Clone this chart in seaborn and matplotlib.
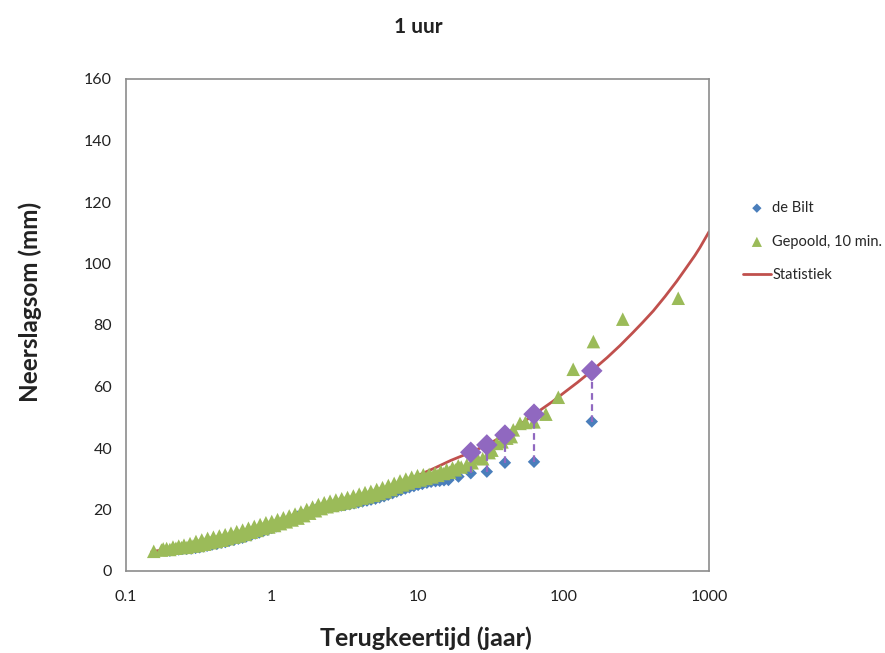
import matplotlib
matplotlib.use("Agg")
import matplotlib.pyplot as plt
import seaborn as sns

# ---------------- data ----------------
green_T = [0.155, 0.175, 0.18,
           0.190, 0.200, 0.210, 0.220, 0.230, 0.240, 0.250, 0.262, 0.275, 0.288,
           0.302, 0.316, 0.331, 0.347, 0.363, 0.380, 0.398, 0.417, 0.437, 0.457,
           0.479, 0.501, 0.525, 0.550, 0.575, 0.603, 0.631, 0.661, 0.692, 0.724,
           0.759, 0.794, 0.832, 0.871, 0.912, 0.955, 1.000, 1.047, 1.096, 1.148,
           1.202, 1.259, 1.318, 1.380, 1.445, 1.514, 1.585, 1.660, 1.738, 1.820,
           1.905, 1.995, 2.089, 2.188, 2.291, 2.399, 2.512, 2.630, 2.754, 2.884,
           3.020, 3.162, 3.311, 3.467, 3.631, 3.802, 3.981, 4.169, 4.365, 4.571,
           4.786, 5.012, 5.248, 5.495, 5.754, 6.026, 6.310, 6.607, 6.918, 7.244,
           7.586, 7.943, 8.318, 8.710, 9.120, 9.550, 10.00, 10.47, 10.96, 11.48,
           12.02, 12.59, 13.18, 13.80, 14.45, 15.14, 15.85, 16.60, 17.38, 18.20,
           19.05, 19.95,
           21.8, 23.7, 25.6, 28.0, 31.0, 32.4, 35.0, 38.0, 41.0, 44.0, 45.4, 50.5,
           55.0, 63.0, 76.0, 92.5, 117.0, 161.0, 256.0, 615.0]
green_v = [6.4, 6.8, 7.2,
           7.3, 7.0, 7.8, 7.4, 8.1, 7.6, 8.4, 7.7, 8.9, 8.1,
           9.6, 8.3, 10.1, 8.7, 10.6, 9.2, 11.0, 9.6, 11.4, 10.0,
           11.8, 10.5, 12.3, 11.0, 12.8, 11.4, 13.3, 11.9, 13.9, 12.6,
           14.5, 13.2, 15.1, 13.8, 15.7, 14.3, 16.1, 14.8, 16.7, 15.4,
           17.3, 16.0, 17.9, 16.6, 18.5, 17.2, 19.2, 18.0, 20.0, 18.8,
           20.8, 19.6, 21.6, 20.3, 22.2, 20.9, 22.7, 21.3, 23.1, 21.7,
           23.5, 22.1, 23.9, 22.5, 24.4, 23.1, 25.0, 23.7, 25.5, 24.1,
           25.9, 24.6, 26.5, 25.2, 27.1, 25.8, 27.8, 26.5, 28.5, 27.3,
           29.3, 28.0, 29.9, 28.6, 30.5, 29.2, 31.0, 29.6, 31.3, 30.1,
           31.4, 30.6, 31.8, 31.1, 32.4, 31.7, 32.9, 32.1, 33.5, 32.9,
           34.2, 33.8,
           34.5, 35.2, 36.8, 36.5, 38.5, 39.3, 41.5, 42.0, 43.2, 43.7, 45.9, 48.0,
           48.3, 48.5, 51.0, 56.5, 65.6, 74.6, 81.9, 88.7]

bilt_T = [0.20, 0.215, 0.23, 0.245, 0.26, 0.28, 0.30, 0.32, 0.34, 0.36, 0.39,
          0.42, 0.45, 0.48, 0.51, 0.55, 0.59, 0.63, 0.67, 0.72, 0.77, 0.82, 0.88,
          0.94, 1.0, 1.07, 1.15, 1.23, 1.32, 1.41, 1.51, 1.62, 1.74, 1.86, 1.99,
          2.13, 2.28, 2.44, 2.61, 2.8, 3.0, 3.2, 3.43, 3.67, 3.93, 4.2, 4.5, 4.8,
          5.15, 5.5, 5.9, 6.3, 6.75, 7.2, 7.7, 8.25, 8.8, 9.45, 10.1, 10.8, 11.6,
          12.4, 13.3, 14.2, 15.2, 16.3, 19.1, 23.2, 29.9, 39.8, 63.0, 157.0]
bilt_v = [6.6, 6.9, 7.0, 7.2, 7.2, 7.3, 7.5, 7.7, 8.0, 8.2, 8.6,
          8.8, 9.2, 9.4, 9.8, 10.1, 10.5, 10.8, 11.3, 11.6, 12.2, 12.5, 13.1,
          13.4, 14.0, 14.5, 15.2, 15.7, 16.5, 17.0, 17.7, 18.2, 18.9, 19.3, 19.9,
          20.2, 20.5, 20.7, 20.9, 21.1, 21.3, 21.5, 21.7, 22.0, 22.3, 22.6, 22.9, 23.2,
          23.5, 23.9, 24.3, 24.8, 25.3, 25.8, 26.3, 26.8, 27.2, 27.6, 28.0, 28.3, 28.7,
          29.0, 29.2, 29.3, 29.5, 29.6, 30.7, 31.8, 32.3, 35.2, 35.5, 48.6]

stat_T = [0.15, 0.2, 0.3, 0.5, 0.7, 1, 1.5, 2, 3, 5, 7, 10, 13, 17, 23.2, 30,
          40, 50, 63, 75, 85, 100, 125, 157, 200, 245, 300, 350, 415, 500, 600,
          684, 800, 867, 1000]
stat_v = [6.3, 7.2, 8.7, 11.0, 12.8, 15.0, 17.6, 19.5, 22.0, 25.3, 27.6, 31.0,
          33.4, 36.0, 38.6, 41.0, 44.3, 47.5, 50.9, 53.4, 55.2, 57.8, 61.3, 65.1,
          69.4, 73.3, 77.5, 80.8, 84.6, 89.3, 94.2, 98.0, 102.6, 105.2, 110.3]

# highlighted points: statistics value vs de Bilt value at same return period
hl_T = [23.2, 29.9, 39.8, 63.0, 157.0]
hl_stat = [38.6, 41.0, 44.2, 51.0, 65.1]
hl_bilt = [31.8, 32.3, 35.2, 35.5, 48.6]

x_ticks = [0.1, 1, 10, 100, 1000]
x_ticklabels = ["0.1", "1", "10", "100", "1000"]
y_ticks = [0, 20, 40, 60, 80, 100, 120, 140, 160]

title = "1 uur"
xlabel = "Terugkeertijd (jaar)"
ylabel = "Neerslagsom (mm)"

# ---------------- style ----------------
sns.set_style("white")
plt.rcParams['font.family'] = ['Lato', 'DejaVu Sans']

c_blue = "#4A7EBB"
c_green = "#9BBB59"
c_red = "#C0504D"
c_purple = "#9068C0"
c_spine = "#8C8C8C"
c_text = "#222222"

fig = plt.figure(figsize=(8.85, 6.53), dpi=100)
ax = fig.add_axes([126 / 885, 1 - 571 / 653, (709 - 126) / 885, (571 - 79) / 653])

sns.lineplot(x=stat_T, y=stat_v, color=c_red, lw=2, ax=ax, label="Statistiek",
             sort=False, zorder=2)
sns.scatterplot(x=bilt_T, y=bilt_v, marker="D", color=c_blue, s=40,
                edgecolor="none", ax=ax, label="de Bilt", zorder=3)
sns.scatterplot(x=green_T, y=green_v, marker="^", color=c_green, s=95,
                edgecolor="none", ax=ax, label="Gepoold, 10 min.", zorder=4)
ax.vlines(hl_T, hl_bilt, hl_stat, colors=c_purple, linestyles=(0, (3, 2)), lw=1.6, zorder=5)
sns.scatterplot(x=hl_T, y=hl_stat, marker="D", color=c_purple, s=120,
                edgecolor="none", ax=ax, legend=False, zorder=6)

ax.set_xscale("log")
ax.set_xlim(0.1, 1000)
ax.set_ylim(0, 160)
ax.set_xticks(x_ticks)
ax.set_xticklabels(x_ticklabels)
ax.minorticks_off()
ax.set_yticks(y_ticks)
ax.tick_params(axis="both", which="major", direction="out", length=5, width=1,
               color=c_spine, labelsize=11.5, labelcolor=c_text, pad=5)
ax.tick_params(axis="x", pad=9)
ax.set_xlabel("")
ax.set_ylabel("")
for s in ax.spines.values():
    s.set_visible(True)
    s.set_color(c_spine)
    s.set_linewidth(1.2)

fig.text(418 / 885, 1 - 27 / 653, title, ha="center", va="center",
         fontsize=15, fontweight="bold", color=c_text)
fig.text(426 / 885, 1 - 638 / 653, xlabel, ha="center", va="center",
         fontsize=18, fontweight="bold", color=c_text)
fig.text(30 / 885, 1 - 302 / 653, ylabel, ha="center", va="center", rotation=90,
         fontsize=17.5, fontweight="bold", color=c_text)

h, l = ax.get_legend_handles_labels()
order = [l.index("de Bilt"), l.index("Gepoold, 10 min."), l.index("Statistiek")]
ax.legend([h[i] for i in order], [l[i] for i in order], loc="upper left",
          bbox_to_anchor=(743 / 885, 1 - 201 / 653), bbox_transform=fig.transFigure,
          frameon=False, fontsize=10.5, labelspacing=1.35, handlelength=1.9,
          handletextpad=0.1, markerscale=0.75, borderaxespad=0, borderpad=0)

fig.savefig("out.png", dpi=100)
